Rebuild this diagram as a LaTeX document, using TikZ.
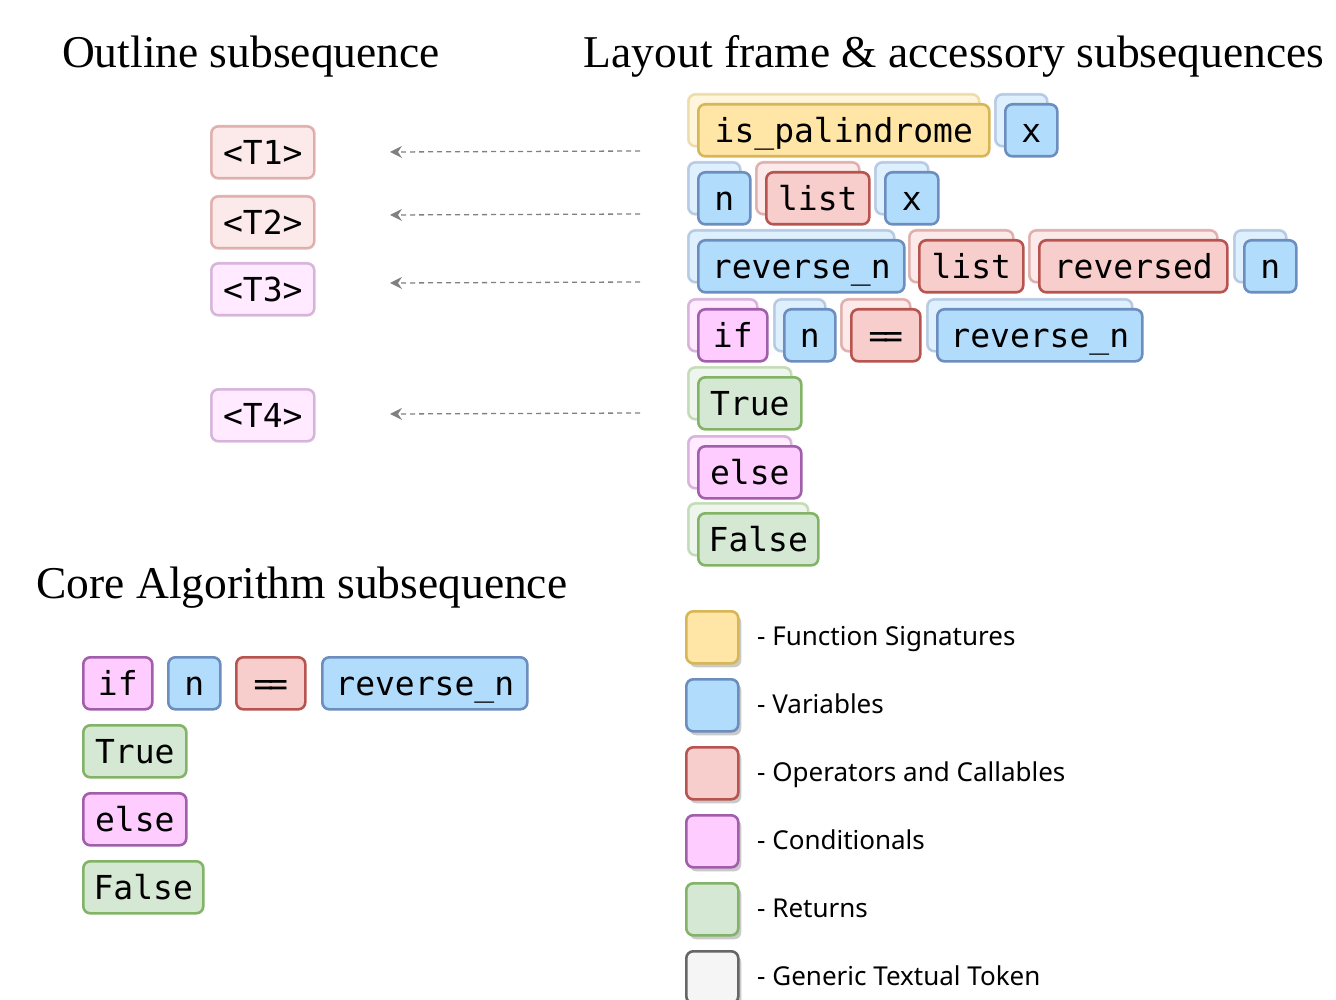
\documentclass[tikz,border=0pt]{standalone}
\usepackage{fontspec}
\setmainfont{Liberation Serif}
\newfontfamily\codefont{DejaVu Sans Mono}
\newfontfamily\legfont{Noto Sans}
\usetikzlibrary{arrows.meta,shadows}
\definecolor{fsF}{HTML}{FFE6A6}\definecolor{fsD}{HTML}{D6B656}
\definecolor{varF}{HTML}{B1DCFC}\definecolor{varD}{HTML}{6C8EBF}
\definecolor{opF}{HTML}{F8CECC}\definecolor{opD}{HTML}{B85450}
\definecolor{condF}{HTML}{FFCCFF}\definecolor{condD}{HTML}{A15EAB}
\definecolor{retF}{HTML}{D5E8D4}\definecolor{retD}{HTML}{82B366}
\definecolor{genF}{HTML}{F5F5F5}\definecolor{genD}{HTML}{666666}
\definecolor{arrowC}{HTML}{808080}
\pgfdeclarelayer{bg}
\pgfsetlayers{bg,main}
\tikzset{
  tokbase/.style={line width=2.6pt, rounded corners=7pt, inner sep=0pt,
    minimum height=52pt, text height=24pt, text depth=0pt,
    font=\codefont\fontsize{33}{33}\selectfont, anchor=north west},
  fs/.style={draw=fsD, fill=fsF},
  var/.style={draw=varD, fill=varF},
  op/.style={draw=opD, fill=opF},
  cond/.style={draw=condD, fill=condF},
  ret/.style={draw=retD, fill=retF},
  gen/.style={draw=genD, fill=genF},
  faded/.style={fill opacity=0.42, draw opacity=0.42, text opacity=1},
  title/.style={inner sep=0pt, text height=30.5pt, text depth=0pt,
    font=\fontsize{45.5}{46}\selectfont},
  legtext/.style={inner sep=0pt, text height=18.6pt, text depth=0pt,
    anchor=west, font=\legfont\fontsize{26}{26}\selectfont},
  legsq/.style={line width=2.6pt, rounded corners=7pt, inner sep=0pt,
    minimum width=52pt, minimum height=52pt, anchor=north west,
    drop shadow={shadow xshift=3pt, shadow yshift=-4pt, opacity=0.35, fill=black!60}},
  conn/.style={draw=arrowC, line width=1.3pt, dash pattern=on 5pt off 4pt,
    -{Stealth[length=12pt,width=12pt,inset=4pt,fill=arrowC]}},
}
% layout token with faded copy behind: name, x, y, width, style, text
\newcommand\ltok[6]{%
  \begin{pgfonlayer}{bg}
  \node[tokbase,#5,faded,minimum width=#4pt] (#1s) at (#2-10,#3-10) {};
  \end{pgfonlayer}
  \node[tokbase,#5,minimum width=#4pt] (#1) at (#2,#3) {#6};
}
% plain token: name, x, y, width, style, text
\newcommand\ctok[6]{%
  \node[tokbase,#5,minimum width=#4pt] (#1) at (#2,#3) {#6};
}
\newcommand\eqeq{=\kern-5.5pt=}
\begin{document}
\begin{tikzpicture}[x=1pt,y=-1pt]
\useasboundingbox (0,0) rectangle (1336,1000);

% titles
\node[title] (tOut) at (251,52) {Outline subsequence};
\node[title] (tLay) at (954,52) {Layout frame \& accessory subsequences};
\node[title] (tCore) at (302,583) {Core Algorithm subsequence};

% outline subsequence
\ctok{o1}{210}{125}{103}{op,faded}{<T1>}
\ctok{o2}{210}{195}{103}{op,faded}{<T2>}
\ctok{o3}{210}{262}{103}{cond,faded}{<T3>}
\ctok{o4}{210}{388}{103}{cond,faded}{<T4>}

% arrows
\coordinate (a1s) at (640,151); \coordinate (a1e) at (390,152);
\coordinate (a2s) at (640,214); \coordinate (a2e) at (390,215);
\coordinate (a3s) at (640,282); \coordinate (a3e) at (390,283);
\coordinate (a4s) at (640,413); \coordinate (a4e) at (390,414);
\draw[conn] (a1s) -- (a1e);
\draw[conn] (a2s) -- (a2e);
\draw[conn] (a3s) -- (a3e);
\draw[conn] (a4s) -- (a4e);

% layout frame & accessory subsequences
\ltok{l11}{697}{103}{291}{fs}{is\_palindrome}
\ltok{l12}{1004}{103}{52}{var}{x}
\ltok{l21}{697}{171}{52}{var}{n}
\ltok{l22}{765}{171}{103}{op}{list}
\ltok{l23}{884}{171}{53}{var}{x}
\ltok{l31}{697}{239}{206}{var}{reverse\_n}
\ltok{l32}{918}{239}{104}{op}{list}
\ltok{l33}{1038}{239}{188}{op}{reversed}
\ltok{l34}{1243}{239}{52}{var}{n}
\ltok{l41}{697}{308}{69}{cond}{if}
\ltok{l42}{783}{308}{51}{var}{n}
\ltok{l43}{850}{308}{69}{op}{\eqeq}
\ltok{l44}{936}{308}{205}{var}{reverse\_n}
\ltok{l51}{697}{376}{103}{ret}{True}
\ltok{l61}{697}{445}{103}{cond}{else}
\ltok{l71}{697}{512}{120}{ret}{False}

% core algorithm subsequence
\ctok{c11}{82}{656}{69}{cond}{if}
\ctok{c12}{167}{656}{52}{var}{n}
\ctok{c13}{235}{656}{69}{op}{\eqeq}
\ctok{c14}{321}{656}{205}{var}{reverse\_n}
\ctok{c21}{82}{724}{103}{ret}{True}
\ctok{c31}{82}{792}{103}{cond}{else}
\ctok{c41}{82}{860}{120}{ret}{False}

% legend
\node[legsq,fs] (g1) at (685,610) {};
\node[legsq,var] (g2) at (685,678) {};
\node[legsq,op] (g3) at (685,746) {};
\node[legsq,cond] (g4) at (685,814) {};
\node[legsq,ret] (g5) at (685,882) {};
\node[legsq,gen] (g6) at (685,950) {};
\node[legtext] (gt1) at (757,636) {- Function Signatures};
\node[legtext] (gt2) at (757,704) {- Variables};
\node[legtext] (gt3) at (757,772) {- Operators and Callables};
\node[legtext] (gt4) at (757,840) {- Conditionals};
\node[legtext] (gt5) at (757,908) {- Returns};
\node[legtext] (gt6) at (757,976) {- Generic Textual Token};
\end{tikzpicture}
\end{document}
